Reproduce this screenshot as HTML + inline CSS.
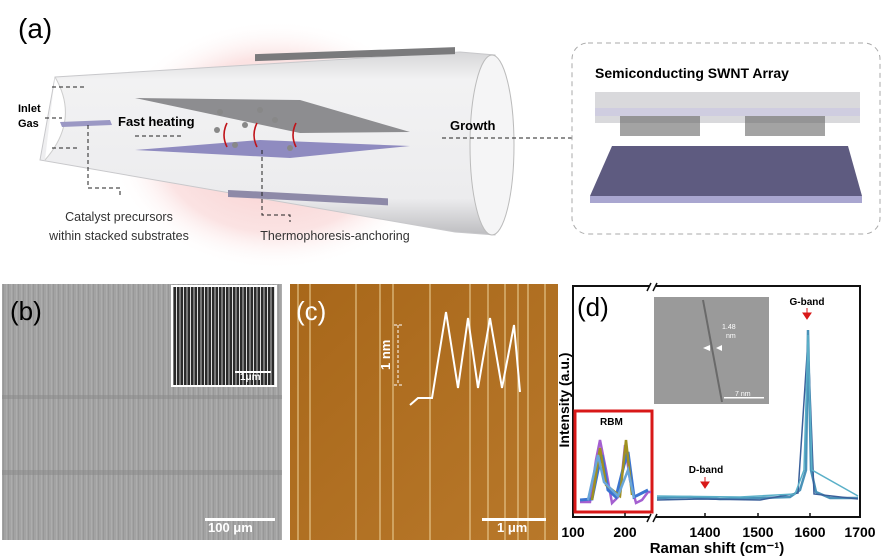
<!DOCTYPE html>
<html><head><meta charset="utf-8"><style>
html,body{margin:0;padding:0;background:#fff;}
svg{display:block;font-family:"Liberation Sans",Arial,sans-serif;}
</style></head><body>
<svg width="886" height="557" viewBox="0 0 886 557" xmlns="http://www.w3.org/2000/svg">
<defs>
<radialGradient id="pink" cx="0.5" cy="0.5" r="0.5">
<stop offset="0" stop-color="#f7c9c9"/><stop offset="0.7" stop-color="#fbe3e3"/><stop offset="1" stop-color="#fff" stop-opacity="0"/></radialGradient>
<linearGradient id="tube" x1="0" y1="0" x2="0" y2="1">
<stop offset="0" stop-color="#d6d6d8"/><stop offset="0.15" stop-color="#f2f2f3"/><stop offset="0.8" stop-color="#ececee"/><stop offset="1" stop-color="#bdbdc0"/></linearGradient>
<linearGradient id="afm" x1="0" y1="0" x2="1" y2="1">
<stop offset="0" stop-color="#a8671a"/><stop offset="1" stop-color="#b8782a"/></linearGradient>
<pattern id="vl" width="5" height="10" patternUnits="userSpaceOnUse"><rect width="5" height="10" fill="#a3a3a3"/><rect x="1" width="1" height="10" fill="#adadad"/><rect x="3" width="1" height="10" fill="#979797"/></pattern>
<pattern id="inl" width="7" height="10" patternUnits="userSpaceOnUse"><rect width="7" height="10" fill="#2a2a2a"/><rect x="1" width="1" height="10" fill="#ddd"/><rect x="4" width="2" height="10" fill="#777"/></pattern>
</defs>
<rect width="886" height="557" fill="#fff"/>
<!-- panel a -->
<rect x="110" y="20" width="330" height="250" fill="url(#pink)"/>
<text x="18" y="38" font-size="28">(a)</text>
<path d="M55,77 L460,52 L495,55 Q520,140 495,235 L455,232 L40,160 Z" fill="url(#tube)" stroke="#c8c8cb"/>
<ellipse cx="492" cy="145" rx="22" ry="90" fill="#f5f5f6" stroke="#bbb"/>
<path d="M55,77 Q80,120 45,160" fill="#fff" stroke="#ccc"/>
<rect x="255" y="63" width="200" height="7" fill="#7a7a7c" transform="skewY(-2)"/>
<rect x="228" y="178" width="160" height="7" fill="#8e8aa8" transform="skewY(3)"/>
<polygon points="135,98 300,100 410,132 300,133" fill="#8d8d90"/>
<polygon points="135,150 260,140 410,146 290,158" fill="#8f8bc0"/>
<polygon points="60,122 110,120 112,125 62,127" fill="#9b98c4"/>
<g fill="#888"><circle cx="220" cy="112" r="3"/><circle cx="245" cy="125" r="3"/><circle cx="275" cy="120" r="3"/><circle cx="260" cy="110" r="3"/><circle cx="217" cy="130" r="3"/><circle cx="235" cy="145" r="3"/><circle cx="290" cy="148" r="3"/></g>
<g stroke="#c0141a" stroke-width="1.6" fill="none"><path d="M227,147 q-6,-12 0,-24"/><path d="M257,147 q-6,-12 0,-24"/><path d="M296,147 q-6,-12 0,-24"/></g>
<text x="18" y="112" font-size="11" font-weight="bold">Inlet</text>
<text x="18" y="127" font-size="11" font-weight="bold">Gas</text>
<text x="118" y="126" font-size="13" font-weight="bold">Fast heating</text>
<text x="450" y="130" font-size="13" font-weight="bold">Growth</text>
<g stroke="#222" stroke-dasharray="4,3" fill="none"><path d="M52,87 H85"/><path d="M45,118 H62"/><path d="M52,148 H80"/><path d="M135,136 H182"/><path d="M442,138 H572"/><path d="M88,125 V188 H120 V196"/><path d="M262,150 V215 H290 V222"/></g>
<text x="119" y="221" font-size="12.5" text-anchor="middle" fill="#333">Catalyst precursors</text>
<text x="119" y="240" font-size="12.5" text-anchor="middle" fill="#333">within stacked substrates</text>
<text x="335" y="240" font-size="12.5" text-anchor="middle" fill="#333">Thermophoresis-anchoring</text>
<rect x="572" y="43" width="308" height="191" rx="16" fill="none" stroke="#aaa" stroke-dasharray="5,4"/>
<text x="595" y="78" font-size="14" font-weight="bold">Semiconducting SWNT Array</text>
<polygon points="595,92 860,92 860,123 595,123" fill="#d9d9dc"/>
<rect x="595" y="108" width="265" height="8" fill="#cfcde0"/>
<g fill="#666"><rect x="620" y="116" width="80" height="20" opacity="0.6"/><rect x="745" y="116" width="80" height="20" opacity="0.6"/></g>
<polygon points="612,146 848,146 862,196 590,196" fill="#5e5b80"/>
<rect x="590" y="196" width="272" height="7" fill="#a9a6d0"/>
<!-- panel b -->
<rect x="2" y="284" width="280" height="256" fill="url(#vl)"/>
<rect x="2" y="395" width="280" height="4" fill="#8a8a8a" opacity="0.5"/>
<rect x="2" y="470" width="280" height="5" fill="#8a8a8a" opacity="0.5"/>
<rect x="172" y="286" width="104" height="100" fill="url(#inl)" stroke="#fff" stroke-width="2"/>
<rect x="235" y="371" width="36" height="2" fill="#fff"/>
<text x="240" y="380" font-size="10" fill="#fff" font-weight="bold">1μm</text>
<text x="10" y="320" font-size="26">(b)</text>
<rect x="205" y="518" width="70" height="3" fill="#fff"/>
<text x="208" y="532" font-size="13" fill="#fff" font-weight="bold">100 μm</text>
<!-- panel c -->
<rect x="290" y="284" width="268" height="256" fill="url(#afm)"/>
<g stroke="#f0d7a0" stroke-width="1.3" opacity="0.75"><path d="M298,284V540"/><path d="M310,284V540"/><path d="M356,284V540"/><path d="M380,284V540"/><path d="M393,284V540"/><path d="M430,284V540"/><path d="M470,284V540"/><path d="M488,284V540"/><path d="M505,284V540"/><path d="M518,284V540"/><path d="M528,284V540"/><path d="M545,284V540"/></g>
<text x="296" y="320" font-size="26" fill="#fff">(c)</text>
<path d="M410,405 L418,398 L432,398 L446,312 L458,388 L468,318 L478,388 L490,318 L502,388 L514,325 L520,392" stroke="#fff" stroke-width="2" fill="none"/>
<path d="M398,325 V385 M394,325H402 M394,385H402" stroke="#fff" stroke-dasharray="3,2" fill="none"/>
<text x="390" y="370" font-size="13" fill="#fff" font-weight="bold" transform="rotate(-90 390 370)">1 nm</text>
<rect x="482" y="518" width="64" height="3" fill="#fff"/>
<text x="497" y="532" font-size="13" fill="#fff" font-weight="bold">1 μm</text>
<!-- panel d -->
<rect x="573" y="286" width="287" height="231" fill="none" stroke="#111" stroke-width="2"/>
<rect x="650" y="280" width="6" height="12" fill="#fff"/><rect x="650" y="511" width="6" height="12" fill="#fff"/>
<g stroke="#111" stroke-width="1.5"><path d="M647,291 l4,-8 M653,291 l4,-8 M647,522 l4,-8 M653,522 l4,-8"/></g>
<text x="577" y="316" font-size="26">(d)</text>
<rect x="654" y="297" width="115" height="107" fill="#9a9a9a"/>
<path d="M703,300 L722,402" stroke="#6a6a6a" stroke-width="2"/>
<text x="722" y="329" font-size="7" fill="#fff">1.48</text><text x="726" y="338" font-size="7" fill="#fff">nm</text>
<path d="M703,348 l7,-3 v6z M722,345 l-6,3 6,3z" fill="#fff"/>
<rect x="724" y="397" width="40" height="1.5" fill="#fff"/><text x="735" y="396" font-size="7" fill="#fff">7 nm</text>
<rect x="575" y="411" width="77" height="101" fill="none" stroke="#d81818" stroke-width="3"/>
<text x="600" y="425" font-size="10" font-weight="bold">RBM</text>
<g fill="none" stroke-width="2.5">
<path d="M580,502 L590,502 L596,460 L600,440 L606,470 L612,503 L620,495 L625,445 L630,480 L636,503 L642,500 L648,492 L651,492" stroke="#a45fd0"/>
<path d="M580,500 L592,499 L598,470 L602,455 L608,490 L616,497 L624,465 L628,452 L634,497 L648,490" stroke="#3b74d0" stroke-width="3"/>
<path d="M592,500 L600,448 L606,485 L620,496 L626,440 L632,495" stroke="#a09020"/>
<path d="M588,500 L598,455 L604,482 L618,496 L628,470 L634,498" stroke="#6aa6d8"/>
</g>
<g fill="none" stroke-width="2.5">
<path d="M657,498 L690,497 L720,499 L760,498 L790,497 L800,490 L806,470 L808,330 L811,470 L816,492 L830,498 L858,498" stroke="#4a92b8"/>
<path d="M657,500 L700,499 L760,500 L798,493 L808,340 L814,494 L858,499" stroke="#3a5f9a" stroke-width="1.5"/>
<path d="M657,496 L740,497 L795,494 L804,470 L808,335 L812,470 L858,496" stroke="#5ab0c8" stroke-width="1.5"/>
</g>
<text x="807" y="305" font-size="10" font-weight="bold" text-anchor="middle">G-band</text>
<path d="M807,308 v8 M803,313 l4,6 4,-6z" stroke="#d81818" fill="#d81818"/>
<text x="706" y="473" font-size="10" font-weight="bold" text-anchor="middle">D-band</text>
<path d="M705,477 v8 M701,482 l4,6 4,-6z" stroke="#d81818" fill="#d81818"/>
<g stroke="#111" stroke-width="1.5"><path d="M625,517v-4M705,517v-4M758,517v-4M810,517v-4"/></g>
<g font-size="14" font-weight="bold" text-anchor="middle">
<text x="573" y="537">100</text><text x="625" y="537">200</text><text x="705" y="537">1400</text><text x="758" y="537">1500</text><text x="810" y="537">1600</text><text x="860" y="537">1700</text>
<text x="717" y="553" font-size="15">Raman shift  (cm⁻¹)</text>
<text x="569" y="400" font-size="14" transform="rotate(-90 569 400)">Intensity  (a.u.)</text>
</g>
</svg>
</body></html>
